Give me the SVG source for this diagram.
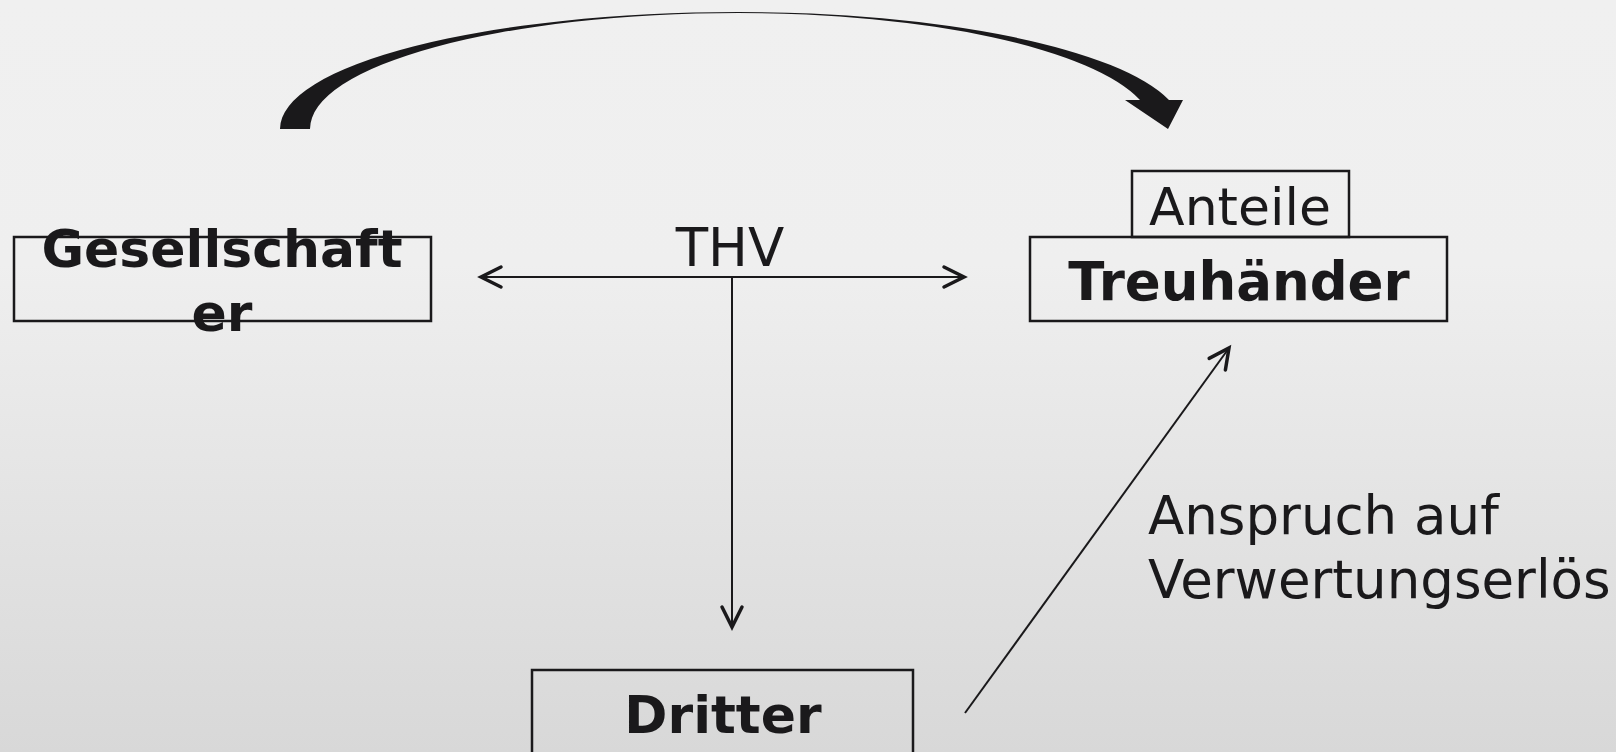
<svg xmlns="http://www.w3.org/2000/svg" width="1616" height="752" viewBox="0 0 1616 752">
<defs>
<linearGradient id="bg" x1="0" y1="0" x2="0" y2="1">
<stop offset="0" stop-color="#f0f0f0"/>
<stop offset="0.35" stop-color="#efefef"/>
<stop offset="1" stop-color="#d8d8d8"/>
</linearGradient>
<marker id="chev" markerUnits="userSpaceOnUse" markerWidth="30" markerHeight="30" viewBox="-25 -15 30 30" refX="0" refY="0" orient="auto-start-reverse">
<path d="M -20 -10 L 0 0 L -20 10" fill="none" stroke="#1a191b" stroke-width="3.5" stroke-linecap="round" stroke-linejoin="miter"/>
</marker>
<style>
.box{fill:none;stroke:#1a191b;stroke-width:2.5}
.t{font-family:"DejaVu Sans",Verdana,sans-serif;fill:#1a191b;font-size:52px}
.b{font-weight:bold}
.c{text-anchor:middle}
.ln{fill:none;stroke:#1a191b;stroke-width:2}
</style>
</defs>
<rect x="0" y="0" width="1616" height="752" fill="url(#bg)"/>
<g id="connectors">
<path id="curved-arrow" d="M 280 129 A 458 117 0 0 1 738 12 A 445 117 0 0 1 1169 100 L 1183 100 L 1168 129 L 1125 100 L 1140 100 A 415 116 0 0 0 738 13 A 428 116 0 0 0 310 129 Z" fill="#1a191b"/>
<line class="ln" x1="481" y1="277" x2="964" y2="277" marker-start="url(#chev)" marker-end="url(#chev)"/>
<line class="ln" x1="732" y1="277" x2="732" y2="627" marker-end="url(#chev)"/>
<line class="ln" x1="965" y1="713" x2="1229" y2="348" marker-end="url(#chev)"/>
</g>
<g id="node-gesellschafter">
<rect class="box" x="14" y="237" width="417" height="84"/>
<text class="t b c" x="222" y="267">Gesellschaft</text>
<text class="t b c" x="222" y="331">er</text>
</g>
<g id="node-anteile">
<rect class="box" x="1132" y="171" width="217" height="66"/>
<text class="t c" x="1240" y="225">Anteile</text>
</g>
<g id="node-treuhaender">
<rect class="box" x="1030" y="237" width="417" height="84"/>
<text class="t b c" x="1239" y="300" style="font-size:53px">Treuhänder</text>
</g>
<g id="node-dritter">
<rect class="box" x="532" y="670" width="381" height="100"/>
<text class="t b c" x="723" y="733">Dritter</text>
</g>
<g id="labels">
<text class="t c" x="730" y="266" style="font-size:53px">THV</text>
<text class="t" x="1148" y="534" style="font-size:53px">Anspruch auf</text>
<text class="t" x="1148" y="598" style="font-size:53px">Verwertungserlös</text>
</g>
</svg>
